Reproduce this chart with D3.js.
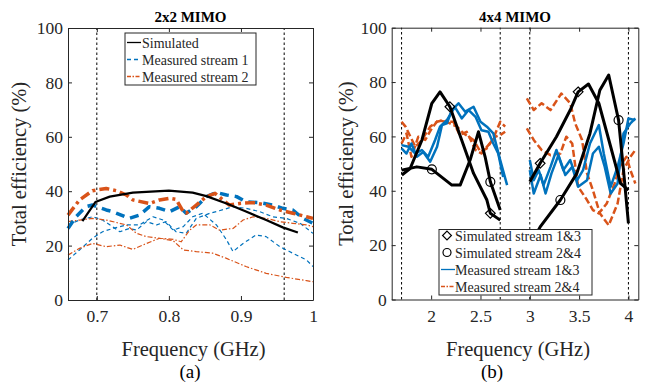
<!DOCTYPE html>
<html>
<head>
<meta charset="utf-8">
<script src="https://cdn.jsdelivr.net/npm/d3@7/dist/d3.min.js"></script>
<style>
  body { margin: 0; background: #fff; }
  svg { display: block; font-family: "Liberation Serif", "Times New Roman", serif; }
</style>
</head>
<body>
<div id="chart"></div>
<script>
// ---- panel (a) 2x2 MIMO : [frequency GHz, efficiency %]
const simA = [[0.68,29],[0.698,36],[0.718,38],[0.75,39.5],[0.80,40.2],[0.833,39.5],[0.852,38.2],[0.88,35.5],[0.907,32.5],[0.935,29.4],[0.958,26.7],[0.979,24.8]];
const meas1ThickA = [[0.66,26.3],[0.671,30.6],[0.685,34.3],[0.694,34.9],[0.713,33.1],[0.722,32.5],[0.745,30],[0.759,31.2],[0.773,34.3],[0.787,33.7],[0.801,32.5],[0.815,34.3],[0.824,31.9],[0.838,34.3],[0.852,38],[0.866,39.5],[0.88,38.6],[0.894,38],[0.907,36.1],[0.926,35.8],[0.944,34.9],[0.958,33.7],[0.972,33.1],[0.986,30],[1.0,28.2]];
const meas1UpperA = [[0.66,27.6],[0.676,29.4],[0.694,30.6],[0.708,29.4],[0.732,25.1],[0.745,26.3],[0.755,25.7],[0.769,28.8],[0.783,27.6],[0.796,28.8],[0.81,25.1],[0.824,24.5],[0.838,30],[0.857,31.9],[0.87,32.8],[0.889,34.3],[0.907,33.7],[0.926,32.5],[0.944,30.6],[0.963,30],[0.982,28.2],[1.0,24.5]];
const meas1LowerA = [[0.66,14.7],[0.676,18.4],[0.694,22.7],[0.708,25.1],[0.722,26.3],[0.741,27.6],[0.759,27.6],[0.778,30.6],[0.792,29.4],[0.806,25.7],[0.82,27],[0.833,30.6],[0.847,31.9],[0.866,27.6],[0.88,22.1],[0.889,17.8],[0.903,20.8],[0.921,23.9],[0.935,23.3],[0.954,19.6],[0.972,17.2],[0.991,14.7],[1.0,12.3]];
const meas2ThickA = [[0.66,31.2],[0.676,36.8],[0.694,40.2],[0.713,41],[0.727,40.2],[0.741,38.6],[0.75,36.8],[0.773,35.5],[0.787,36.8],[0.801,37.4],[0.81,37],[0.82,32.5],[0.824,31.9],[0.838,34.9],[0.852,38],[0.864,39.2],[0.875,36.8],[0.884,34.9],[0.898,35.5],[0.917,35.8],[0.935,34.9],[0.954,33.1],[0.972,31.9],[0.991,30.6],[1.0,30]];
const meas2UpperA = [[0.66,28.8],[0.676,29.4],[0.694,30],[0.713,29.4],[0.741,27.6],[0.755,24.5],[0.769,23.3],[0.787,22.7],[0.806,22.3],[0.817,21.4],[0.829,25.7],[0.838,27.6],[0.857,27.6],[0.87,25.7],[0.889,26.3],[0.903,29.4],[0.917,30.6],[0.935,30],[0.954,28.8],[0.972,28.2],[0.991,27.6],[1.0,27]];
const meas2LowerA = [[0.66,16.5],[0.676,19],[0.694,20.8],[0.713,19.6],[0.732,20.2],[0.75,18.6],[0.769,20.8],[0.787,22.7],[0.806,21.8],[0.82,18.4],[0.838,17.8],[0.861,17.2],[0.88,15.3],[0.907,12.3],[0.935,9.8],[0.963,8.3],[0.991,7.1],[1.0,6.7]];
const bandEdgesA = [0.7, 0.96];
const xTicksA = [0.7, 0.8, 0.9, 1];

// ---- panel (b) 4x4 MIMO
const sim13Low = [[1.703,45.8],[1.787,48.2],[1.906,58.6],[2.007,72.2],[2.09,76.4],[2.19,70.9],[2.31,58.6],[2.43,46.4],[2.565,36.6],[2.60,31.7],[2.70,29.2]];
const sim24Low = [[1.70,47.6],[1.855,48.8],[2.007,47.9],[2.21,42.1],[2.294,42.1],[2.395,51.3],[2.48,61.7],[2.547,52.5],[2.60,43.3],[2.70,32.9]];
const sim13High = [[3.0,43.3],[3.105,50.1],[3.27,59.9],[3.41,69.7],[3.49,76.4],[3.595,79.3],[3.70,72.2],[3.82,56.2],[3.92,42.7],[4.0,40.2]];
const sim24High = [[3.0,20],[3.105,26.7],[3.31,36.6],[3.477,46.4],[3.61,61.1],[3.71,77],[3.80,82.6],[3.90,66],[3.95,47.6],[4.0,28]];
const diamondPts = [[2.19,70.9],[2.60,31.7],[3.105,50.1],[3.49,76.4]];
const circlePts = [[2.007,47.9],[2.60,43.3],[3.31,36.6],[3.90,66]];
const meas13a = [[1.70,55.6],[1.75,53.7],[1.80,57.4],[1.855,52.5],[1.92,54.3],[1.99,50.7],[2.06,56.2],[2.11,64.2],[2.16,64.8],[2.21,69.7],[2.277,72.2],[2.345,69.1],[2.43,70.9],[2.50,65.4],[2.565,63.6],[2.63,61.1],[2.70,51.3],[2.77,42.1]];
const meas13b = [[1.70,56.8],[1.77,56.2],[1.84,53.7],[1.906,55],[1.97,52.5],[2.04,58.7],[2.09,63.6],[2.16,66],[2.24,70.9],[2.31,66.6],[2.38,69.7],[2.45,67.2],[2.51,62.3],[2.58,61.7],[2.63,57.4],[2.68,53.7],[2.73,45.1]];
const meas13c = [[3.0,51.3],[3.04,43.9],[3.09,47.6],[3.14,42.1],[3.21,48.8],[3.27,55],[3.34,47.6],[3.41,51.3],[3.48,43.9],[3.54,47.6],[3.61,57.4],[3.70,64.2],[3.75,53.7],[3.82,41.5],[3.89,48.8],[3.95,57.4],[4.0,66.6],[4.07,66]];
const meas13d = [[3.0,47.6],[3.04,39],[3.11,45.8],[3.16,39],[3.22,46.4],[3.29,53.1],[3.36,45.8],[3.43,48.8],[3.49,41.5],[3.58,43.9],[3.64,53.7],[3.70,56.2],[3.76,48.8],[3.82,39],[3.89,42.7],[3.95,61.1],[4.02,64.8],[4.07,66.6]];
const meas24a = [[1.70,65.4],[1.74,63.6],[1.79,59.9],[1.84,56.2],[1.906,58.7],[1.99,63.6],[2.06,65.4],[2.125,66],[2.19,64.8],[2.26,63.6],[2.33,61.1],[2.43,58.7],[2.50,54.3],[2.565,55.6],[2.63,59.3],[2.70,65.4],[2.75,63.6]];
const meas24b = [[1.70,57.4],[1.75,61.1],[1.80,52.5],[1.87,59.9],[1.94,58.7],[2.007,63],[2.07,66],[2.14,65.4],[2.225,65.4],[2.29,60.5],[2.36,61.7],[2.45,55],[2.51,53.7],[2.58,56.8],[2.65,59.9],[2.70,60.5],[2.75,61.7]];
const meas24c = [[2.97,74],[3.04,69.7],[3.12,72.2],[3.21,69.7],[3.32,75.8],[3.41,72.2],[3.46,64.8],[3.53,58.7],[3.58,46.4],[3.64,40.2],[3.71,31.7],[3.80,27.3],[3.89,35.3],[3.95,47.6],[4.02,52.5],[4.07,55]];
const meas24d = [[2.97,63],[3.04,58.7],[3.12,55],[3.21,53.1],[3.31,53.7],[3.37,59.9],[3.43,57.4],[3.49,41.5],[3.58,36.6],[3.64,32.9],[3.70,31.7],[3.78,35.3],[3.86,42.7],[3.91,48.8],[3.98,52.5],[4.02,47.6],[4.07,42.7]];
const bandEdgesB = [1.7, 2.7, 3.0, 4.0];
const xTicksB = [2, 2.5, 3, 3.5, 4];

const yTicks = [0, 20, 40, 60, 80, 100];
const legendA = ['Simulated', 'Measured stream 1', 'Measured stream 2'];
const legendB = ['Simulated stream 1&3', 'Simulated stream 2&4', 'Measured stream 1&3', 'Measured stream 2&4'];

const BLUE = '#0072BD', ORANGE = '#D95319', AXIS = '#262626';
const FONT = '"Liberation Serif", "Times New Roman", serif';

const svg = d3.select('#chart').append('svg').attr('width', 647).attr('height', 382);

function drawPanel(o) {
  const x = d3.scaleLinear().domain(o.xDomain).range(o.xRange);
  const y = d3.scaleLinear().domain([0, 100]).range(o.yRange);
  const g = svg.append('g').attr('font-family', FONT);

  // band edge markers
  g.selectAll('line.band').data(o.bands).enter().append('line')
    .attr('x1', d => x(d)).attr('x2', d => x(d))
    .attr('y1', y(0)).attr('y2', y(100))
    .attr('stroke', '#000').attr('stroke-width', 1).attr('stroke-dasharray', '2.5,2.5');

  const line = d3.line().x(d => x(d[0])).y(d => y(d[1]));
  o.series.forEach(s => {
    g.append('path').datum(s.data)
      .attr('fill', 'none').attr('stroke', s.color).attr('stroke-width', s.width)
      .attr('stroke-dasharray', s.dash || null)
      .attr('stroke-linejoin', 'round')
      .attr('d', line);
  });

  if (o.diamonds) {
    g.selectAll('path.dia').data(o.diamonds).enter().append('path')
      .attr('d', d3.symbol().type(d3.symbolDiamond2).size(60))
      .attr('transform', d => `translate(${x(d[0])},${y(d[1])})`)
      .attr('fill', 'none').attr('stroke', '#000').attr('stroke-width', 1.2);
    g.selectAll('circle.mk').data(o.circles).enter().append('circle')
      .attr('cx', d => x(d[0])).attr('cy', d => y(d[1])).attr('r', 4.5)
      .attr('fill', 'none').attr('stroke', '#000').attr('stroke-width', 1.2);
  }

  // axes, MATLAB style with inward ticks
  const styleAxis = sel => {
    sel.attr('font-family', FONT);
    sel.selectAll('path.domain').attr('stroke', AXIS);
    sel.selectAll('.tick line').attr('stroke', AXIS);
    sel.selectAll('.tick text').attr('fill', AXIS).style('font-size', '17.5px').style('font-family', FONT);
  };
  g.append('g').attr('transform', `translate(0,${y(0)})`)
    .call(d3.axisBottom(x).tickValues(o.xTicks).tickSizeInner(-4).tickSizeOuter(0).tickPadding(10).tickFormat(d3.format('')))
    .call(styleAxis);
  g.append('g').attr('transform', `translate(0,${y(100)})`)
    .call(d3.axisTop(x).tickValues(o.xTicks).tickSizeInner(-4).tickSizeOuter(0).tickFormat(''))
    .call(styleAxis);
  g.append('g').attr('transform', `translate(${x(o.xDomain[0])},0)`)
    .call(d3.axisLeft(y).tickValues(yTicks).tickSizeInner(-4).tickSizeOuter(0).tickPadding(5))
    .call(styleAxis);
  g.append('g').attr('transform', `translate(${x(o.xDomain[1])},0)`)
    .call(d3.axisRight(y).tickValues(yTicks).tickSizeInner(-4).tickSizeOuter(0).tickFormat(''))
    .call(styleAxis);

  const cx = (x(o.xDomain[0]) + x(o.xDomain[1])) / 2;
  g.append('text').attr('x', cx).attr('y', 22).attr('text-anchor', 'middle')
    .style('font-size', '15px').style('font-weight', 'bold').text(o.title);
  g.append('text').attr('x', cx + 3).attr('y', 356).attr('text-anchor', 'middle')
    .style('font-size', '20.5px').attr('fill', AXIS).text('Frequency (GHz)');
  g.append('text').attr('x', o.capX).attr('y', 378).attr('text-anchor', 'middle')
    .style('font-size', '19px').text(o.caption);
  g.append('text').attr('transform', `translate(${o.yLabelX},${(y(0) + y(100)) / 2}) rotate(-90)`)
    .attr('text-anchor', 'middle').style('font-size', '20.5px').attr('fill', AXIS)
    .text('Total efficiency (%)');

  // legend
  const L = o.legend;
  const lg = g.append('g');
  lg.append('rect').attr('x', L.x).attr('y', L.y).attr('width', L.w).attr('height', L.h)
    .attr('fill', '#fff').attr('stroke', AXIS).attr('stroke-width', 1);
  L.items.forEach((it, i) => {
    const yy = L.y + L.pad + i * L.step;
    if (it.marker === 'diamond') {
      lg.append('path').attr('d', d3.symbol().type(d3.symbolDiamond2).size(50))
        .attr('transform', `translate(${L.x + 8},${yy})`)
        .attr('fill', 'none').attr('stroke', '#000').attr('stroke-width', 1.2);
    } else if (it.marker === 'circle') {
      lg.append('circle').attr('cx', L.x + 8).attr('cy', yy).attr('r', 4)
        .attr('fill', 'none').attr('stroke', '#000').attr('stroke-width', 1.2);
    } else {
      lg.append('line').attr('x1', L.x + 2).attr('x2', L.x + L.lineLen).attr('y1', yy).attr('y2', yy)
        .attr('stroke', it.color).attr('stroke-width', 1.3).attr('stroke-dasharray', it.dash || null);
    }
    lg.append('text').attr('x', L.x + L.textX).attr('y', yy + 5)
      .style('font-size', '14px').attr('fill', AXIS).text(it.label);
  });
}

drawPanel({
  xDomain: [0.66, 1.0], xRange: [68, 313], yRange: [300, 28],
  xTicks: xTicksA, bands: bandEdgesA, title: '2x2 MIMO', caption: '(a)', capX: 190, yLabelX: 26,
  series: [
    { data: meas1LowerA, color: BLUE, width: 1.2, dash: '4,3' },
    { data: meas1UpperA, color: BLUE, width: 1.2, dash: '4,3' },
    { data: meas2LowerA, color: ORANGE, width: 1.2, dash: '5,2,1.5,2' },
    { data: meas2UpperA, color: ORANGE, width: 1.2, dash: '5,2,1.5,2' },
    { data: meas1ThickA, color: BLUE, width: 3.5, dash: '9,6' },
    { data: meas2ThickA, color: ORANGE, width: 3.5, dash: '10,4,3,4' },
    { data: simA, color: '#000', width: 2.2 }
  ],
  legend: { x: 125, y: 33, w: 131, h: 52, pad: 9.5, step: 17, lineLen: 16, textX: 17,
    items: [
      { label: legendA[0], color: '#000' },
      { label: legendA[1], color: BLUE, dash: '4,3' },
      { label: legendA[2], color: ORANGE, dash: '4,1.5,1.5,1.5' }
    ] }
});

drawPanel({
  xDomain: [1.6, 4.1], xRange: [391.7, 638.3], yRange: [299.5, 27.7],
  xTicks: xTicksB, bands: bandEdgesB, title: '4x4 MIMO', caption: '(b)', capX: 492, yLabelX: 353,
  series: [
    { data: meas24a, color: ORANGE, width: 2.5, dash: '7,3' },
    { data: meas24b, color: ORANGE, width: 2.5, dash: '7,3' },
    { data: meas24c, color: ORANGE, width: 2.5, dash: '7,3' },
    { data: meas24d, color: ORANGE, width: 2.5, dash: '7,3' },
    { data: meas13a, color: BLUE, width: 2.5 },
    { data: meas13b, color: BLUE, width: 2.5 },
    { data: meas13c, color: BLUE, width: 2.5 },
    { data: meas13d, color: BLUE, width: 2.5 },
    { data: sim13Low, color: '#000', width: 3 },
    { data: sim24Low, color: '#000', width: 3 },
    { data: sim13High, color: '#000', width: 3 },
    { data: sim24High, color: '#000', width: 3 }
  ],
  diamonds: diamondPts, circles: circlePts,
  legend: { x: 439, y: 229.5, w: 153, h: 65.5, pad: 6, step: 17, lineLen: 16, textX: 16,
    items: [
      { label: legendB[0], marker: 'diamond' },
      { label: legendB[1], marker: 'circle' },
      { label: legendB[2], color: BLUE },
      { label: legendB[3], color: ORANGE, dash: '4,1.5,1.5,1.5' }
    ] }
});
</script>
</body>
</html>
